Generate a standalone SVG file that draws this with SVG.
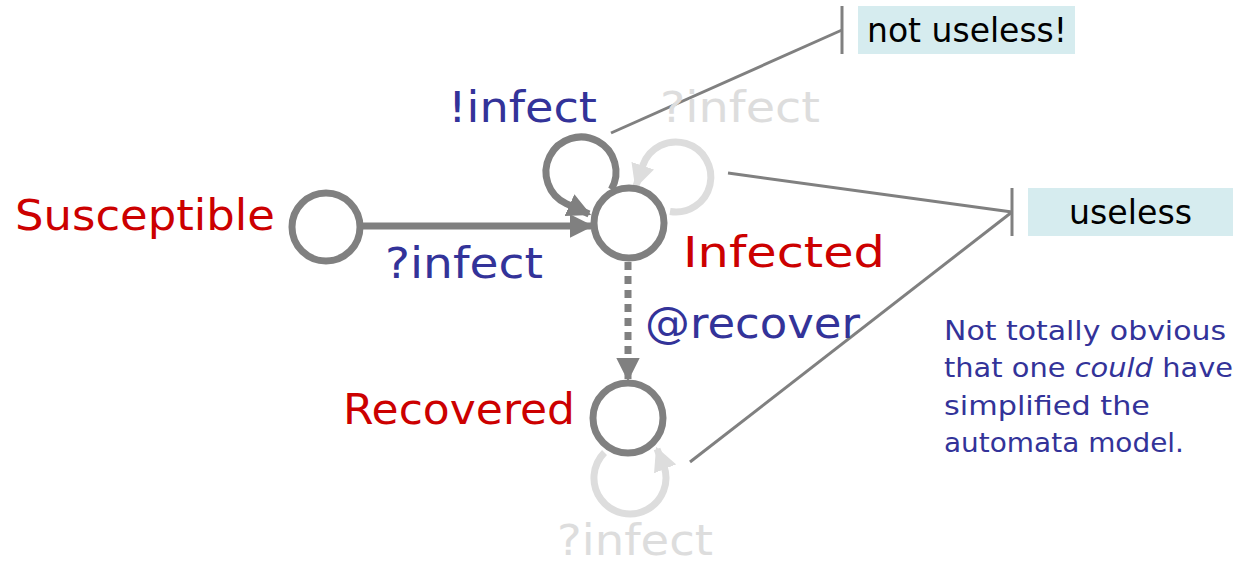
<svg xmlns="http://www.w3.org/2000/svg" width="1233" height="565" viewBox="0 0 1233 565">
<style>
.st{fill:none;stroke:#808080;stroke-width:7}
.lt{fill:none;stroke:#dddddd;stroke-width:7}
.lbl{font-family:"DejaVu Sans","Noto Sans",sans-serif;font-size:42px}
.red{fill:#cc0000}
.blue{fill:#333399}
.ghost{fill:#dddddd}
.note{font-family:"DejaVu Sans","Noto Sans",sans-serif;font-size:27px;fill:#333399}
.box{fill:#d6ecef}
.boxt{font-family:"DejaVu Sans","Noto Sans",sans-serif;font-size:33px;fill:#000}
.ptr{fill:none;stroke:#808080;stroke-width:3}
</style>
<defs>
<marker id="ah" viewBox="0 0 10 10" refX="9" refY="5" markerWidth="3.4" markerHeight="3.4" orient="auto" markerUnits="strokeWidth">
<path d="M0,0 L10,5 L0,10 z" fill="#808080"/>
</marker>
<marker id="ahl" viewBox="0 0 10 10" refX="9" refY="5" markerWidth="3.4" markerHeight="3.4" orient="auto" markerUnits="strokeWidth">
<path d="M0,0 L10,5 L0,10 z" fill="#dddddd"/>
</marker>
</defs>
<g id="connectors">
<line x1="363" y1="226" x2="591" y2="226" class="st" marker-end="url(#ah)"/>
<path d="M611.3,189.5 A35,35 0 1 0 566.2,203.7 L589,214" class="st" marker-end="url(#ah)"/>
<path d="M670,211.5 A35,35 0 1 0 643,165 L636,186" class="lt" marker-end="url(#ahl)"/>
<line x1="628" y1="262" x2="628" y2="379" class="st" stroke-dasharray="8,6" marker-end="url(#ah)"/>
<path d="M604.5,452.5 A36,36 0 1 0 663.8,465.7 L657,449" class="lt" marker-end="url(#ahl)"/>
<line x1="611" y1="133" x2="842" y2="30" class="ptr"/>
<line x1="842" y1="6" x2="842" y2="54" class="ptr"/>
<line x1="728" y1="173" x2="1012" y2="212" class="ptr"/>
<line x1="690" y1="462" x2="1012" y2="212" class="ptr"/>
<line x1="1012" y1="188" x2="1012" y2="236" class="ptr"/>
</g>
<g id="susceptible">
<circle cx="326" cy="227" r="34" fill="#fff" class="st"/>
<text x="15" y="230" class="lbl red" textLength="260" lengthAdjust="spacingAndGlyphs">Susceptible</text>
</g>
<g id="infected">
<circle cx="629" cy="223" r="35" fill="#fff" class="st"/>
<text x="683" y="267" class="lbl red" textLength="202" lengthAdjust="spacingAndGlyphs">Infected</text>
</g>
<g id="recovered">
<circle cx="628" cy="418" r="35" fill="#fff" class="st"/>
<text x="343" y="424" class="lbl red" textLength="232" lengthAdjust="spacingAndGlyphs">Recovered</text>
</g>
<g id="labels">
<text x="448" y="122" class="lbl blue" textLength="149" lengthAdjust="spacingAndGlyphs">!infect</text>
<text x="660" y="122" class="lbl ghost" textLength="160" lengthAdjust="spacingAndGlyphs">?infect</text>
<text x="385" y="278" class="lbl blue" textLength="158" lengthAdjust="spacingAndGlyphs">?infect</text>
<text x="645" y="338" class="lbl blue" textLength="215" lengthAdjust="spacingAndGlyphs">@recover</text>
<text x="557" y="555" class="lbl ghost" font-size="40" textLength="156" lengthAdjust="spacingAndGlyphs">?infect</text>
</g>
<g id="not-useless">
<rect x="858" y="6" width="217" height="48" class="box"/>
<text x="867" y="42" class="boxt" textLength="200" lengthAdjust="spacingAndGlyphs">not useless!</text>
</g>
<g id="useless">
<rect x="1028" y="188" width="205" height="48" class="box"/>
<text x="1069" y="224" class="boxt" textLength="123" lengthAdjust="spacingAndGlyphs">useless</text>
</g>
<g id="note">
<text x="944" y="340" class="note" textLength="282" lengthAdjust="spacingAndGlyphs">Not totally obvious</text>
<text x="944" y="377" class="note" textLength="289" lengthAdjust="spacingAndGlyphs">that one <tspan font-style="italic">could</tspan> have</text>
<text x="944" y="415" class="note" textLength="206" lengthAdjust="spacingAndGlyphs">simplified the</text>
<text x="944" y="452" class="note" textLength="240" lengthAdjust="spacingAndGlyphs">automata model.</text>
</g>
</svg>
